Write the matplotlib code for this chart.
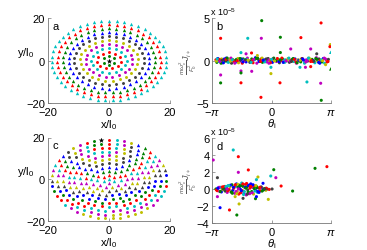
import numpy as np
import matplotlib
matplotlib.use("Agg")
import matplotlib.pyplot as plt

plt.rcParams['font.family'] = ['Liberation Sans', 'DejaVu Sans']
plt.rcParams['mathtext.fontset'] = 'custom'
plt.rcParams['mathtext.rm'] = 'Liberation Sans'
plt.rcParams['mathtext.it'] = 'Liberation Sans:italic'

# ---------------- data ----------------
COLORS = {'b': (0, 0, 1), 'g': (0, 0.5, 0), 'r': (1, 0, 0), 'c': (0, 0.75, 0.75),
          'm': (0.75, 0, 0.75), 'y': (0.75, 0.75, 0), 'k': (0.25, 0.25, 0.25)}
shell_colors = ['b', 'g', 'r', 'c', 'm', 'y', 'k']
# concentric shells of the Wigner cluster (radius in l0, number of electrons)
ring_radius = [0.0, 1.95, 3.85, 5.75, 7.65, 9.5, 11.4, 13.25, 15.1, 16.95, 18.8]
ring_count = [1, 6, 11, 16, 21, 25, 30, 34, 39, 43, 47]
shell_width = 1.9
star_c = (-3.0, 18.0)

# panel b: dense band (theta_i, J in 1e-5)
b_theta1 = [-2.95,-2.9,-2.85,-2.8,-2.72,-2.65,-2.6,-2.52,-2.45,-2.4,-2.33,-2.25,-2.2,-2.12,-2.05,-2.0,
            -1.92,-1.85,-1.78,-1.7,-1.64,-1.55,-1.5,-1.42,-1.35,-1.28,-1.2,-1.12,-1.05,-0.98,-0.9,-0.85,
            -0.78,-0.7,-0.62,-0.55,-0.48,-0.4,-0.32,-0.25,-0.18,-0.1,-0.03,0.05,0.12,0.2,0.27,0.35,0.42,
            0.5,0.58,0.65,0.72,0.8,0.88,0.95,1.02,1.1,1.18,1.25,1.32,1.4,1.48,1.55,1.62,1.7,1.78,1.85,
            1.92,2.0,2.08,2.15,2.22,2.3,2.38,2.45,2.52,2.6,2.68,2.75,2.82,2.9,2.97,3.02]
b_J1 = [0.1,-0.2,0.25,-0.1,0.05,0.2,-0.25,0.1,-0.05,0.3,-0.15,0.05,0.2,-0.3,0.1,0.0,-0.2,0.15,0.25,-0.1,
        0.05,-0.3,0.2,0.1,-0.15,0.3,0.0,-0.1,0.2,-0.25,0.1,0.35,-0.3,0.15,-0.05,0.2,-0.2,0.1,0.0,-0.15,
        0.25,-0.05,0.1,-0.2,0.3,0.05,-0.1,0.15,-0.25,0.0,0.2,-0.15,0.1,-0.05,0.25,-0.2,0.05,0.15,-0.1,0.2,
        -0.3,0.1,0.0,-0.15,0.25,0.05,-0.2,0.1,-0.05,0.3,-0.1,0.15,0.0,-0.25,0.35,-0.1,0.2,0.05,-0.15,0.25,
        -0.3,0.1,-0.05,0.15]
b_col1 = "rgbcmykrgbcmykgrbcymkrgcbmykgrcbmkyrgbcmkyrbgcmykrgbcmykrgcbmykgrbcmkyrgbcmykrgbcmykr"
b_theta2 = [-2.92,-2.78,-2.68,-2.5,-2.38,-2.28,-2.15,-1.98,-1.88,-1.75,-1.6,-1.45,-1.32,-1.15,-1.0,-0.82,
            -0.66,-0.5,-0.36,-0.2,-0.06,0.08,0.24,0.4,0.55,0.7,0.85,1.0,1.15,1.3,1.45,1.6,1.75,1.9,2.05,
            2.2,2.35,2.5,2.65,2.8,2.95]
b_J2 = [-0.05,0.15,-0.3,0.2,0.0,-0.2,0.3,-0.1,0.1,-0.25,0.2,-0.05,0.15,-0.2,0.05,0.25,-0.1,0.3,-0.15,0.1,
        -0.25,0.2,0.0,-0.1,0.3,-0.2,0.1,-0.05,0.25,-0.15,0.05,0.2,-0.3,0.0,0.15,-0.1,0.25,-0.2,0.1,0.3,-0.15]
b_col2 = "yrgbkcmrgybmckrgbycmrkgbrcymgrbkcmyrgbcmr"
b_theta3 = [-2.88,-2.74,-2.62,-2.55,-2.42,-2.35,-2.18,-2.08,-1.95,-1.82,-1.67,-1.52,-1.38,-1.24,-1.08,-0.94,
            -0.74,-0.58,-0.44,-0.28,-0.14,0.0,0.16,0.31,0.46,0.62,0.77,0.92,1.06,1.21,1.36,1.52,1.66,1.82,
            1.96,2.12,2.26,2.41,2.56,2.71,2.86,3.0]
b_J3 = [0.2,-0.1,0.05,-0.25,0.15,0.3,-0.05,0.1,-0.3,0.0,0.25,-0.15,0.1,0.05,-0.2,0.15,0.3,-0.1,0.05,0.2,
        -0.3,0.15,-0.05,0.25,0.1,-0.2,0.0,0.3,-0.1,0.15,-0.25,0.05,0.2,-0.15,0.3,0.0,-0.05,0.15,-0.3,0.0,0.2,-0.1]
b_col3 = "cmkbrgycmrgbkycmgrbkmcyrgbmckrgybmcrkgbymr"
# panel b: outliers
b_out_theta = [-0.52,2.63,-2.70,-1.26,-0.54,0.47,1.56,3.12,3.10,1.02,2.08,-1.62,-1.35,-1.06,2.4,0.47,-0.75,
               -2.70,-2.70,-1.62,-1.62,-1.05,-0.03,-0.03,-1.62,0.45,-0.56,1.88,2.61,2.64,2.87,1.51,1.8,2.08]
b_out_J = [4.69,4.42,2.62,2.62,2.62,2.74,2.70,1.88,1.64,1.37,1.37,0.94,0.8,0.9,0.8,0.95,0.6,
           -1.68,-2.61,-1.21,-1.44,-1.25,-1.52,-0.78,-2.6,-2.6,-4.3,-2.5,-2.65,-4.65,-0.47,-0.78,-0.78,-0.7]
b_out_col = "grrcmgryrmmcmrkgymgmgmycrrrcmgycmr"
b_tri_theta = [3.14, 3.14]
b_tri_J = [0.98, -0.97]
b_tri_col = "cg"

# panel d: cluster
d_theta1 = [-2.95,-2.88,-2.82,-2.75,-2.7,-2.62,-2.58,-2.5,-2.45,-2.4,-2.35,-2.3,-2.25,-2.2,-2.15,-2.1,-2.05,
            -2.0,-1.95,-1.9,-1.86,-1.82,-1.78,-1.74,-1.7,-1.66,-1.62,-1.58,-1.54,-1.5,-1.46,-1.42,-1.38,
            -1.34,-1.3,-1.26,-1.22,-1.18,-1.14,-1.1,-1.05,-1.0,-0.95,-0.9,-0.85,-0.8,-0.74,-0.68,-0.6,
            -0.52,-0.45,-0.38,-0.3,-0.22,-0.12]
d_J1 = [0.0,-0.2,0.1,-0.3,0.2,-0.1,0.05,0.3,-0.25,0.15,-0.4,0.4,-0.05,0.25,-0.35,0.5,-0.15,0.1,-0.5,0.35,
        0.6,-0.3,0.2,-0.6,0.45,0.0,-0.4,0.7,-0.2,0.3,-0.55,0.15,0.55,-0.7,0.25,-0.1,0.4,-0.45,0.1,0.6,
        -0.3,0.2,-0.6,0.35,-0.15,0.3,-0.4,0.1,-0.2,0.15,-0.1,0.05,-0.15,0.0,-0.05]
d_col1 = "grbmcykrgbmcrykgbrmcbygrkbmcrgbyrmgkbcrbgmyrbgckrmbgykr"
d_theta2 = [-2.92,-2.78,-2.66,-2.55,-2.42,-2.32,-2.18,-2.08,-1.98,-1.88,-1.8,-1.72,-1.64,-1.56,-1.48,-1.4,
            -1.32,-1.24,-1.16,-1.08,-0.98,-0.88,-0.78,-0.66,-0.55,-0.42,-0.28]
d_J2 = [-0.1,0.2,-0.35,0.05,0.3,-0.2,0.45,-0.5,0.25,-0.3,0.55,0.1,-0.45,0.4,-0.65,0.2,0.65,-0.35,-0.55,0.3,
        0.5,-0.25,0.15,-0.4,0.25,-0.1,0.1]
d_col2 = "rmbgcrbgrmybrgcbrgmrbcgbkgr"
d_theta3 = [-2.85,-2.72,-2.6,-2.48,-2.36,-2.26,-2.12,-2.02,-1.92,-1.84,-1.76,-1.68,-1.6,-1.52,-1.44,-1.36,
            -1.28,-1.2,-1.12,-1.02,-0.92,-0.83,-0.72,-0.62,-0.5,-0.35]
d_J3 = [0.1,-0.3,0.25,-0.15,0.0,0.4,-0.35,0.2,0.5,-0.55,0.0,0.35,-0.2,0.6,-0.3,0.1,-0.6,0.45,0.3,-0.45,
        0.05,0.4,-0.3,0.2,-0.25,0.0]
d_col3 = "bgrkmcgbrymgbrcgkbrmgybrgk"
# panel d: outliers
d_out_theta = [-2.03,-1.76,-3.09,-1.23,-1.76,0.12,2.31,2.94,-0.04,0.23,-0.72,-0.8,-2.87,0.51,1.12,0.03,
               -2.73,-2.23,-1.84,-1.72,-0.17,-1.51,-1.93,-2.87,-0.85,-0.8,-0.45]
d_out_J = [4.59,3.8,3.41,2.24,1.96,2.27,2.43,2.63,1.53,1.33,1.41,1.1,1.33,0.35,-0.24,0.0,
           -2.2,-2.47,-3.06,-1.76,-1.22,-1.1,-0.9,-0.9,-1.14,-0.9,0.67]
d_out_col = "crmrmggrcmyckrgkbrgyykymgbb"

# ---------------- cluster positions from the shells ----------------
pts = []
for r, n in zip(ring_radius, ring_count):
    ang = np.pi / 2 + 2 * np.pi * np.arange(n) / n
    for a in ang:
        pts.append((r * np.cos(a), r * np.sin(a)))
pts = np.array(pts)

W, H = 367, 251
fig = plt.figure(figsize=(W / 100, H / 100), dpi=100)

def axbox(l, r, t, b):
    return fig.add_axes([l / W, 1 - b / H, (r - l) / W, (b - t) / H])

axA = axbox(48, 170, 19, 104)
axB = axbox(212.3, 330.7, 19, 104.3)
axC = axbox(48, 170, 138.5, 222)
axD = axbox(212.3, 330.7, 139, 224)

FS = 8

def style(ax):
    for s in ['top', 'right']:
        ax.spines[s].set_visible(False)
    for s in ['left', 'bottom']:
        ax.spines[s].set_linewidth(0.6)
        ax.spines[s].set_color('#777777')
    ax.tick_params(direction='in', length=2, width=0.5, labelsize=FS, pad=2, colors='#777777',
                   labelcolor='black')
    ax.tick_params(axis='x', pad=3)

def draw_lattice(ax, center, star_at):
    d = np.hypot(pts[:, 0] - center[0], pts[:, 1] - center[1])
    istar = np.argmin(np.hypot(pts[:, 0] - star_at[0], pts[:, 1] - star_at[1]))
    shell = np.rint(d / shell_width).astype(int)
    for k in range(shell.max() + 1):
        sel = (shell == k)
        sel[istar] = False
        if not sel.any():
            continue
        col = COLORS[shell_colors[k % 7]]
        mk = 'o' if (k // 7) % 2 == 0 else '^'
        ax.scatter(pts[sel, 0], pts[sel, 1], s=4.5 if mk == 'o' else 6, marker=mk, color=col,
                   linewidths=0, zorder=3)
    ax.scatter([pts[istar, 0]], [pts[istar, 1]], s=18, marker='*', color='k', linewidths=0, zorder=4)
    ax.set_xlim(-20, 20)
    ax.set_ylim(-20, 20)
    ax.set_xticks([-20, 0, 20])
    ax.set_yticks([-20, 0, 20])
    ax.set_xlabel(r'x/l$_0$', fontsize=FS, labelpad=0)
    ax.set_ylabel(r'y/l$_0$', fontsize=FS, rotation=0, ha='center', va='center')
    ax.yaxis.set_label_coords(-0.18, 0.6)

draw_lattice(axA, (0.0, 0.0), (0.0, 0.0))
draw_lattice(axC, star_c, star_c)

def sc(ax, th, J, cols, mk='o', s=5):
    n = min(len(th), len(J), len(cols))
    ax.scatter(th[:n], J[:n], c=[COLORS[c] for c in cols[:n]], marker=mk, s=s, linewidths=0, zorder=3)

sc(axB, b_theta1, b_J1, b_col1)
sc(axB, b_theta2, b_J2, b_col2)
sc(axB, b_theta3, b_J3, b_col3)
sc(axB, b_out_theta, b_out_J, b_out_col)
sc(axB, b_tri_theta, b_tri_J, b_tri_col, mk='^', s=6)
axB.set_ylim(-5, 5)
axB.set_yticks([-5, 0, 5])

sc(axD, d_theta1, d_J1, d_col1)
sc(axD, d_theta2, d_J2, d_col2)
sc(axD, d_theta3, d_J3, d_col3)
sc(axD, d_out_theta, d_out_J, d_out_col)
axD.set_ylim(-4, 6)
axD.set_yticks([-4, -2, 0, 2, 4, 6])

for ax in (axB, axD):
    ax.set_xlim(-np.pi, np.pi)
    ax.set_xticks([-np.pi, 0, np.pi])
    ax.set_xticklabels([r'$-\pi$', '0', r'$\pi$'])
    ax.set_xlabel(r'$\theta_{\rm i}$', fontsize=FS, labelpad=-1)
    ax.set_ylabel(r'$\frac{m\omega_c^2}{F_0^2}J_{i\ast}$', fontsize=6.5, color='#555555',
                  va='center', ha='center')
    ax.yaxis.set_label_coords(-0.2, 0.5)
    ax.annotate(r'x 10$^{-5}$', xy=(0, 1), xycoords='axes fraction', xytext=(-2, 0.5),
                textcoords='offset points', fontsize=6.5, ha='left', va='bottom')

for ax, lab in zip((axA, axB, axC, axD), 'abcd'):
    style(ax)
    ax.text(0.035, 0.97, lab, transform=ax.transAxes, fontsize=FS, ha='left', va='top')

fig.savefig('out.png', dpi=100)
